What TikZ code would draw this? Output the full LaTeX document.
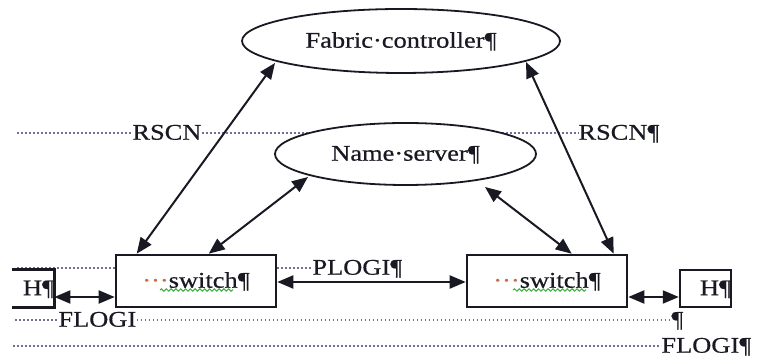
\documentclass[tikz,border=0pt]{standalone}
\usepackage{fontspec}
\usetikzlibrary{arrows.meta,shapes.geometric,decorations.pathmorphing,backgrounds}
\newfontfamily\wf{Liberation Serif}[FakeStretch=1.18,FakeBold=0.6]
\definecolor{dotc}{RGB}{115,110,150}
\definecolor{dotorange}{RGB}{200,110,70}
\definecolor{ink}{RGB}{25,25,35}
\definecolor{wavegreen}{RGB}{60,170,60}
\begin{document}
\begin{tikzpicture}[x=0.5pt,y=-0.5pt,
  txt/.style={font=\wf\fontsize{11.2}{13}\selectfont, text=ink, inner sep=0pt, text height=8.4pt, text depth=1.7pt},
  ell/.style={txt, ellipse, draw=ink, line width=0.9pt, fill=white},
  box/.style={txt, rectangle, draw=ink, line width=1.3pt, fill=white},
  dotl/.style={draw=dotc, line width=0.6pt, dash pattern=on 0.9pt off 1.1pt},
  arr/.style={draw=ink, line width=1pt, {Triangle[length=8pt,width=6.5pt]}-{Triangle[length=8pt,width=6.5pt]}},
  wave/.style={draw=wavegreen, line width=0.5pt, decorate, decoration={snake, amplitude=0.6pt, segment length=2.4pt}}
]
\useasboundingbox (0,0) rectangle (758,356);

% ellipses
\node[ell, minimum width=159pt, minimum height=32pt] (fc) at (401,41) {Fabric·controller¶};
\node[ell, minimum width=130.5pt, minimum height=31pt] (ns) at (405.5,154) {Name·server¶};

% switches and hosts
\node[box, minimum width=80pt, minimum height=26pt] (swL) at (196,281) {{\color{dotorange}···}switch¶};
\node[box, minimum width=80pt, minimum height=26pt] (swR) at (547,281) {{\color{dotorange}···}switch¶};
\node[txt, text width=21pt, align=right, minimum height=18.5pt] (hL) at (33,288.5) {H¶};
\draw[draw=ink, line width=1.2pt] (hL.north west) -- (hL.north east) -- (hL.south east) -- (hL.south west);
\node[box, line width=1.2pt, text width=25.5pt, align=right, minimum height=18.5pt] (hR) at (705.5,288.5) {H¶};

% spell-check underlines
\draw[wave] ([shift={(-36,9)}]swL.center) -- ([shift={(37,9)}]swL.center);
\draw[wave] ([shift={(-34,9)}]swR.center) -- ([shift={(39,9)}]swR.center);

% labels
\node[txt, anchor=west] (rscnL) at (132,133) {RSCN};
\node[txt, anchor=west] (rscnR) at (578,133) {RSCN¶};
\node[txt, anchor=west] (plogi) at (312,268) {PLOGI¶};
\node[txt, anchor=west] (flogiL) at (58,320) {FLOGI};
\node[txt, anchor=west] (pil) at (671,320) {¶};
\node[txt, anchor=west] (flogiR) at (661,346) {FLOGI¶};

% dotted leader lines
\coordinate (d1) at (17,133);
\coordinate (d2) at (17,268);
\coordinate (d3) at (15,320);
\coordinate (d4) at (13,346);
\begin{scope}[on background layer]
\draw[dotl] (d1) -- (rscnL.west);
\draw[dotl] (rscnL.east) -- (rscnR.west);
\draw[dotl] (d2) -- (d2 -| swL.west);
\draw[dotl] (d2 -| swL.east) -- (plogi.west);
\draw[dotl] (d3) -- (flogiL.west);
\draw[dotl] (flogiL.east) -- (pil.west);
\draw[dotl] (d4) -- (flogiR.west);
\end{scope}

% connectors
\draw[arr] ([shift={(0,8.5)}]hL.east) -- ([shift={(0,16)}]swL.west);
\draw[arr] ([shift={(0,1)}]swL.east) -- ([shift={(0,1)}]swR.west);
\draw[arr] ([shift={(0,16)}]swR.east) -- ([shift={(0,8.5)}]hR.west);
\draw[arr] ([shift={(22,0)}]swL.north west) -- ([shift={(-126,22)}]fc.center);
\draw[arr] ([shift={(94,0)}]swL.north west) -- ([shift={(-97.5,23)}]ns.center);
\draw[arr] ([shift={(106,0)}]swR.north west) -- ([shift={(79.5,33)}]ns.center);
\draw[arr] ([shift={(148,0)}]swR.north west) -- ([shift={(125,21)}]fc.center);
\end{tikzpicture}
\end{document}
